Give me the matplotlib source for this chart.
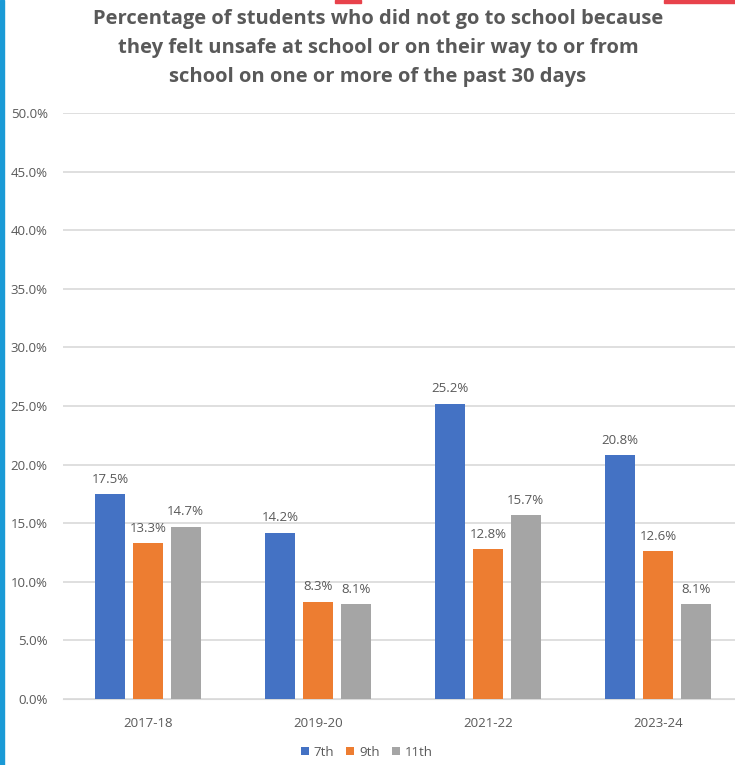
import matplotlib.pyplot as plt
import matplotlib.patches as patches
import numpy as np

plt.rcParams['font.family'] = ['Open Sans', 'DejaVu Sans']

years = ["2017-18", "2019-20", "2021-22", "2023-24"]
grades = ["7th", "9th", "11th"]
grade7 = [17.5, 14.2, 25.2, 20.8]
grade9 = [13.3, 8.3, 12.8, 12.6]
grade11 = [14.7, 8.1, 15.7, 8.1]

colors = ["#4472C4", "#ED7D31", "#A5A5A5"]
text_gray = "#595959"

fig = plt.figure(figsize=(7.35, 7.65), dpi=100)
ax = fig.add_axes([63 / 735, 66 / 765, 680 / 735, 586 / 765])

x = np.arange(len(years))
step = 0.222
width = 0.176
for i, (vals, name) in enumerate(zip([grade7, grade9, grade11], grades)):
    bars = ax.bar(x + (i - 1) * step, vals, width, color=colors[i], label=name, zorder=3)
    for b, v in zip(bars, vals):
        ax.annotate(f"{v:.1f}%", (b.get_x() + b.get_width() / 2, v),
                    xytext=(0, 6), textcoords="offset points",
                    ha="center", va="bottom", fontsize=9.5, color=text_gray)

ax.set_xlim(-0.5, 3.5)
ax.set_ylim(0, 50)
ax.set_yticks(np.arange(0, 50.1, 5))
ax.set_yticklabels([f"{t:.1f}%" for t in np.arange(0, 50.1, 5)])
ax.set_xticks(x)
ax.set_xticklabels(years)
ax.tick_params(axis="both", length=0, labelsize=9.5, labelcolor=text_gray)
ax.tick_params(axis="y", pad=11)
ax.tick_params(axis="x", pad=13)
ax.grid(axis="y", color="#D9D9D9", linewidth=1.2, zorder=0)
for s in ax.spines.values():
    s.set_visible(False)
ax.spines["bottom"].set_visible(True)
ax.spines["bottom"].set_color("#D9D9D9")

fig.text(378 / 735, 1 - 48 / 765,
         "Percentage of students who did not go to school because\n"
         "they felt unsafe at school or on their way to or from\n"
         "school on one or more of the past 30 days",
         ha="center", va="center", fontsize=14.5, fontweight="bold",
         color=text_gray, linespacing=1.6)

fig.legend(loc="center", bbox_to_anchor=(367 / 735, 1 - 752 / 765), ncol=3,
           frameon=False, fontsize=9.5, handlelength=0.6, handleheight=0.6,
           handletextpad=0.4, columnspacing=0.9, labelcolor=text_gray)

# decorative edges from the screenshot
fig.patches.append(patches.Rectangle((0, 0), 4 / 735, 1, transform=fig.transFigure,
                                     color="#1A9AD6", zorder=5))
fig.patches.append(patches.Rectangle((335 / 735, 1 - 3 / 765), 26 / 735, 3 / 765,
                                     transform=fig.transFigure, color="#E8424B", zorder=5))
fig.patches.append(patches.Rectangle((664 / 735, 1 - 3 / 765), 71 / 735, 3 / 765,
                                     transform=fig.transFigure, color="#E8424B", zorder=5))

fig.savefig("out.png", dpi=100)
